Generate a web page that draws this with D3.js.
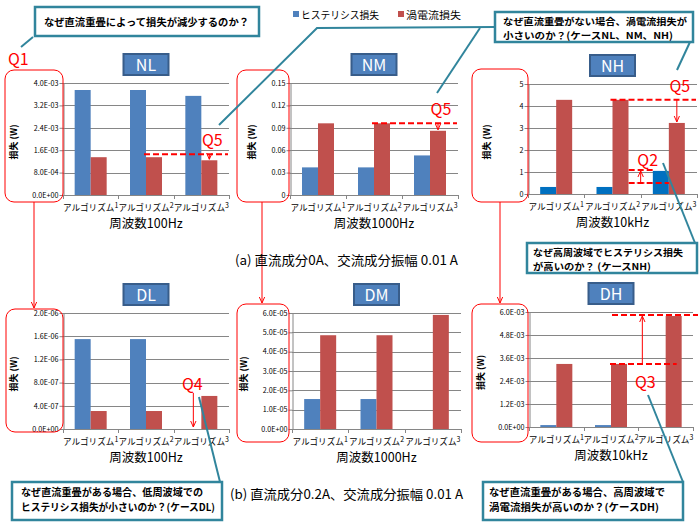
<!DOCTYPE html>
<html><head><meta charset="utf-8">
<script src="https://cdn.jsdelivr.net/npm/d3@7"></script>
<style>
body{margin:0;background:#fff}
svg{display:block}
text{font-family:"Noto Sans CJK JP","Noto Sans",sans-serif}
</style>
</head><body>
<svg id="c" width="700" height="530"></svg>
<script>
// ---------------- data ----------------
const categories = ["アルゴリズム1", "アルゴリズム2", "アルゴリズム3"];
const seriesNames = ["ヒステリシス損失", "渦電流損失"];
const panelNames = ["NL", "NM", "NH", "DL", "DM", "DH"];
const freqTitles = ["周波数100Hz", "周波数1000Hz", "周波数10kHz", "周波数100Hz", "周波数1000Hz", "周波数10kHz"];
const yTitle = "損失 (W)";

const hystNL = [3.75e-3, 3.75e-3, 3.54e-3];
const eddyNL = [1.35e-3, 1.35e-3, 1.24e-3];
const hystNM = [0.037, 0.037, 0.053];
const eddyNM = [0.096, 0.096, 0.086];
const hystNH = [0.32, 0.32, 1.05];
const eddyNH = [4.28, 4.28, 3.23];
const hystDL = [1.55e-6, 1.55e-6, 0];
const eddyDL = [3.1e-7, 3.1e-7, 5.7e-7];
const hystDM = [1.55e-5, 1.55e-5, 0];
const eddyDM = [4.85e-5, 4.85e-5, 5.9e-5];
const hystDH = [1.0e-4, 1.0e-4, 0];
const eddyDH = [3.29e-3, 3.29e-3, 5.79e-3];

const ticksNL = [0, 8e-4, 1.6e-3, 2.4e-3, 3.2e-3, 4.0e-3];
const tickLabelsNL = ["0.0E+00", "8.0E-04", "1.6E-03", "2.4E-03", "3.2E-03", "4.0E-03"];
const ticksNM = [0, 0.03, 0.06, 0.09, 0.12, 0.15];
const tickLabelsNM = ["0", "0.03", "0.06", "0.09", "0.12", "0.15"];
const ticksNH = [0, 1, 2, 3, 4, 5];
const tickLabelsNH = ["0", "1", "2", "3", "4", "5"];
const ticksDL = [0, 4e-7, 8e-7, 1.2e-6, 1.6e-6, 2.0e-6];
const tickLabelsDL = ["0.0E+00", "4.0E-07", "8.0E-07", "1.2E-06", "1.6E-06", "2.0E-06"];
const ticksDM = [0, 1e-5, 2e-5, 3e-5, 4e-5, 5e-5, 6e-5];
const tickLabelsDM = ["0.0E+00", "1.0E-05", "2.0E-05", "3.0E-05", "4.0E-05", "5.0E-05", "6.0E-05"];
const ticksDH = [0, 1.2e-3, 2.4e-3, 3.6e-3, 4.8e-3, 6.0e-3];
const tickLabelsDH = ["0.0E+00", "1.2E-03", "2.4E-03", "3.6E-03", "4.8E-03", "6.0E-03"];

const captionA = "(a) 直流成分0A、交流成分振幅 0.01 A";
const captionB = "(b) 直流成分0.2A、交流成分振幅 0.01 A";
const calloutTop = ["なぜ直流重畳によって損失が減少するのか？"];
const calloutN = ["なぜ直流重畳がない場合、渦電流損失が", "小さいのか？(ケースNL、NM、NH)"];
const calloutNH = ["なぜ高周波域でヒステリシス損失", "が高いのか？ (ケースNH)"];
const calloutDL = ["なぜ直流重畳がある場合、低周波域での", "ヒステリシス損失が小さいのか？(ケースDL)"];
const calloutDH = ["なぜ直流重畳がある場合、高周波域で", "渦電流損失が高いのか？(ケースDH)"];

// ---------------- styles ----------------
const BLUE = "#4F81BD", BLUE_NH = "#0070C0", RED = "#C0504D", GRID = "#868686",
      TEAL = "#31859C", QRED = "#FF0000";

const svg = d3.select("#c");
const defs = svg.append("defs");
defs.append("marker").attr("id", "arr").attr("viewBox", "0 0 10 10")
  .attr("refX", 9).attr("refY", 5).attr("markerWidth", 7).attr("markerHeight", 7)
  .attr("orient", "auto-start-reverse")
  .append("path").attr("d", "M0,1 L9,5 L0,9").attr("fill", "none")
  .attr("stroke", QRED).attr("stroke-width", 1.4);

const panels = [
  {name: panelNames[0], hyst: hystNL, eddy: eddyNL, ticks: ticksNL, labels: tickLabelsNL, freq: freqTitles[0], blue: BLUE},
  {name: panelNames[1], hyst: hystNM, eddy: eddyNM, ticks: ticksNM, labels: tickLabelsNM, freq: freqTitles[1], blue: BLUE},
  {name: panelNames[2], hyst: hystNH, eddy: eddyNH, ticks: ticksNH, labels: tickLabelsNH, freq: freqTitles[2], blue: BLUE_NH},
  {name: panelNames[3], hyst: hystDL, eddy: eddyDL, ticks: ticksDL, labels: tickLabelsDL, freq: freqTitles[3], blue: BLUE},
  {name: panelNames[4], hyst: hystDM, eddy: eddyDM, ticks: ticksDM, labels: tickLabelsDM, freq: freqTitles[4], blue: BLUE},
  {name: panelNames[5], hyst: hystDH, eddy: eddyDH, ticks: ticksDH, labels: tickLabelsDH, freq: freqTitles[5], blue: BLUE}
];
const layout = [
  {l: 63, r: 229, t: 83, b: 195, ytx: 15, box: [5, 70, 58, 132]},
  {l: 290, r: 458, t: 83, b: 195, ytx: 253, box: [237, 70, 52, 132]},
  {l: 528, r: 697, t: 84, b: 194, ytx: 488, box: [472, 69, 56, 133]},
  {l: 63, r: 229, t: 313, b: 429, ytx: 15, box: [6, 309, 57, 123]},
  {l: 292, r: 461, t: 313, b: 429, ytx: 245, box: [237, 304, 52, 138]},
  {l: 529, r: 693, t: 312, b: 427, ytx: 482, box: [472, 304, 56, 138]}
];

function drawPanel(p, L) {
  const g = svg.append("g");
  const x0 = d3.scaleBand().domain(categories).range([L.l, L.r]).padding(0);
  const groupW = 32;
  const x1 = d3.scaleBand().domain(["h", "e"]).range([0, groupW]).padding(0);
  const y = d3.scaleLinear().domain([0, d3.max(p.ticks)]).range([L.b, L.t]);
  const gx = c => x0(c) + (x0.bandwidth() - groupW) / 2;

  g.selectAll(".grid").data(p.ticks).join("line")
    .attr("x1", L.l).attr("x2", L.r)
    .attr("y1", d => Math.round(y(d)) + 0.5).attr("y2", d => Math.round(y(d)) + 0.5)
    .attr("stroke", GRID).attr("stroke-width", 1);

  const rows = categories.map((c, i) => ({c, h: p.hyst[i], e: p.eddy[i]}));
  g.selectAll(".bh").data(rows).join("rect")
    .attr("x", d => gx(d.c) + x1("h")).attr("width", x1.bandwidth())
    .attr("y", d => y(d.h)).attr("height", d => y(0) - y(d.h))
    .attr("fill", p.blue);
  g.selectAll(".be").data(rows).join("rect")
    .attr("x", d => gx(d.c) + x1("e")).attr("width", x1.bandwidth())
    .attr("y", d => y(d.e)).attr("height", d => y(0) - y(d.e))
    .attr("fill", RED);

  const ya = g.append("g").attr("transform", `translate(${L.l + 0.5},0)`)
    .call(d3.axisLeft(y).tickValues(p.ticks).tickFormat((d, i) => p.labels[i]).tickSize(4).tickSizeOuter(0));
  ya.select(".domain").attr("stroke", GRID);
  ya.selectAll(".tick line").attr("stroke", GRID);
  ya.selectAll(".tick text").attr("font-family", "'Noto Sans','DejaVu Sans',sans-serif")
    .attr("font-size", 7.2).attr("fill", "#000").attr("x", -5);

  g.append("line").attr("x1", L.l).attr("x2", L.r)
    .attr("y1", Math.round(y(0)) + 0.5).attr("y2", Math.round(y(0)) + 0.5).attr("stroke", GRID);
  const bounds = categories.map(c => x0(c)).concat([L.r]);
  g.selectAll(".xt").data(bounds).join("line")
    .attr("x1", d => Math.round(d) + 0.5).attr("x2", d => Math.round(d) + 0.5)
    .attr("y1", y(0)).attr("y2", y(0) + 4).attr("stroke", GRID);
  const cl = g.selectAll(".cl").data(categories).join("text")
    .attr("x", c => x0(c) + x0.bandwidth() / 2).attr("y", y(0) + 16)
    .attr("text-anchor", "middle").attr("font-size", 8.6).attr("fill", "#000");
  cl.append("tspan").text(c => c.slice(0, -1));
  cl.append("tspan").attr("dy", -3).attr("font-size", 7).text(c => c.slice(-1));

  g.append("text").attr("x", (L.l + L.r) / 2).attr("y", y(0) + 33)
    .attr("text-anchor", "middle").attr("font-size", 12.5).attr("fill", "#000").text(p.freq);

  g.append("text").attr("transform", `translate(${L.ytx},${(L.t + L.b) / 2 + 3}) rotate(-90)`)
    .attr("text-anchor", "middle").attr("font-size", 9).attr("font-weight", "bold")
    .attr("dominant-baseline", "middle").text(yTitle);

  const cx = (L.l + L.r) / 2;
  g.append("rect").attr("x", cx - 22.5).attr("y", L.t - 29).attr("width", 45).attr("height", 21)
    .attr("fill", BLUE).attr("stroke", "#385D8A").attr("stroke-width", 2);
  g.append("text").attr("x", cx).attr("y", L.t - 12.5).attr("text-anchor", "middle")
    .attr("font-family", "'Open Sans','Noto Sans',sans-serif")
    .attr("font-size", 16).attr("fill", "#fff").text(p.name);

  g.append("rect").attr("x", L.box[0]).attr("y", L.box[1]).attr("width", L.box[2]).attr("height", L.box[3])
    .attr("rx", 9).attr("fill", "none").attr("stroke", QRED).attr("stroke-width", 1);

  return {x0, x1, y, gx, L, g};
}

const P = panels.map((p, i) => drawPanel(p, layout[i]));

function dashed(x1, x2, yy) {
  svg.append("line").attr("x1", x1).attr("x2", x2).attr("y1", yy).attr("y2", yy)
    .attr("stroke", QRED).attr("stroke-width", 2).attr("stroke-dasharray", "6,3");
}
function arrow(x, ya, yb) {
  svg.append("line").attr("x1", x).attr("x2", x).attr("y1", ya).attr("y2", yb)
    .attr("stroke", QRED).attr("stroke-width", 1).attr("marker-end", "url(#arr)");
}
function qlabel(x, yy, t, anchor) {
  svg.append("text").attr("x", x).attr("y", yy).attr("text-anchor", anchor || "middle")
    .attr("font-family", "'Liberation Sans','Noto Sans',sans-serif")
    .attr("font-size", 16).attr("fill", QRED).text(t);
}
const redLeft = (S, i) => S.gx(categories[i]) + S.x1("e");
const redMid = (S, i) => redLeft(S, i) + S.x1.bandwidth() / 2;
const blueLeft = (S, i) => S.gx(categories[i]) + S.x1("h");

// Q5
[0, 1, 2].forEach(k => {
  const S = P[k], p = panels[k];
  const yd = S.y(p.eddy[1]) - (k === 0 ? 3 : 0);
  dashed(redLeft(S, 1) - 2, S.L.r - 1, yd);
  arrow(redMid(S, 2), yd, S.y(p.eddy[2]) - 1);
  qlabel(redMid(S, 2) + 3, yd - 8, "Q5");
});

// Q2
{
  const S = P[2], p = panels[2];
  const b3 = S.x0(categories[2]);
  const yu = S.y(p.hyst[2]) - 1, yl = S.y(p.hyst[0]) - 4;
  dashed(b3 - 12, blueLeft(S, 2) + 1, yu);
  dashed(b3 - 12, blueLeft(S, 2) + 16, yl);
  arrow(b3, yl, yu + 1);
  svg.append("line").attr("x1", b3 - 4).attr("x2", b3 + 4).attr("y1", yl).attr("y2", yl)
    .attr("stroke", QRED).attr("stroke-width", 1);
  qlabel(b3 + 7, yu - 4, "Q2");
}

// Q4
{
  const S = P[3], p = panels[3];
  const bx = blueLeft(S, 2) + 8;
  const ys = S.y(p.eddy[2]) - 3;
  arrow(bx, ys, S.y(0) - 2);
  qlabel(bx - 1, ys - 3, "Q4");
}

// Q3
{
  const S = P[5], p = panels[5];
  const yu = S.y(p.eddy[2]) - 1, yl = S.y(p.eddy[1]);
  const b3 = S.x0(categories[2]);
  dashed(redLeft(S, 1) + 1, S.L.r + 5, yu);
  dashed(redLeft(S, 1) - 1, redLeft(S, 2) + 11, yl);
  arrow(b3 + 4, yl, yu + 1);
  qlabel(b3 + 7, yl + 24, "Q3");
}

[0, 1, 2].forEach(k => {
  const a = layout[k].box, bb = layout[k + 3].box;
  const xx = [34, 262, 500][k];
  svg.append("line").attr("x1", xx).attr("x2", xx).attr("y1", a[1] + a[3]).attr("y2", bb[1] - 1)
    .attr("stroke", QRED).attr("stroke-width", 1).attr("marker-end", "url(#arr)");
});

qlabel(8, 65, "Q1", "start");

function tealLine(pts) {
  svg.append("path").attr("d", d3.line()(pts)).attr("fill", "none")
    .attr("stroke", TEAL).attr("stroke-width", 2);
}
function callout(x, yy, w, h, lines, tx, ty, lh, widths, fs) {
  svg.append("rect").attr("x", x).attr("y", yy).attr("width", w).attr("height", h)
    .attr("fill", "#fff").attr("stroke", TEAL).attr("stroke-width", 2.5);
  lines.forEach((t, i) => svg.append("text").attr("x", tx).attr("y", ty + i * lh)
    .attr("font-size", fs).attr("font-weight", "bold").attr("fill", "#000")
    .attr("textLength", widths[i]).attr("lengthAdjust", "spacingAndGlyphs").text(t));
}
tealLine([[33, 37], [21, 47]]);
tealLine([[219, 125], [317, 28], [495, 27]]);
tealLine([[480, 28], [437, 93]]);
tealLine([[690, 42], [677, 70]]);
tealLine([[663, 163], [695, 243]]);
tealLine([[199, 397], [220, 482]]);
tealLine([[648, 395], [683, 482]]);

callout(35, 7, 224, 29, calloutTop, 44, 26, 12, [205], 10);
callout(495, 12, 198, 30, calloutN, 503, 24.5, 14, [184, 170], 9.5);
callout(527, 243, 170, 30, calloutNH, 533, 256, 14, [150, 118], 9.5);
callout(12, 482, 210, 38, calloutDL, 21, 496, 15, [182, 194], 10);
callout(483, 482, 200, 38, calloutDH, 489, 496, 15, [176, 170], 10);

const lg = svg.append("g");
const legendX = [293, 398];
const legendW = [78, 55];
seriesNames.forEach((s, i) => {
  lg.append("rect").attr("x", legendX[i]).attr("y", 11).attr("width", 6).attr("height", 6)
    .attr("fill", [BLUE, RED][i]);
  lg.append("text").attr("x", legendX[i] + 8).attr("y", 18.5).attr("font-size", 10.5)
    .attr("fill", "#000").attr("textLength", legendW[i]).attr("lengthAdjust", "spacingAndGlyphs").text(s);
});

svg.append("text").attr("x", 235).attr("y", 265).attr("font-size", 13).attr("fill", "#000")
  .attr("textLength", 223).attr("lengthAdjust", "spacingAndGlyphs").text(captionA);
svg.append("text").attr("x", 230).attr("y", 499).attr("font-size", 13).attr("fill", "#000")
  .attr("textLength", 233).attr("lengthAdjust", "spacingAndGlyphs").text(captionB);
</script>
</body></html>
